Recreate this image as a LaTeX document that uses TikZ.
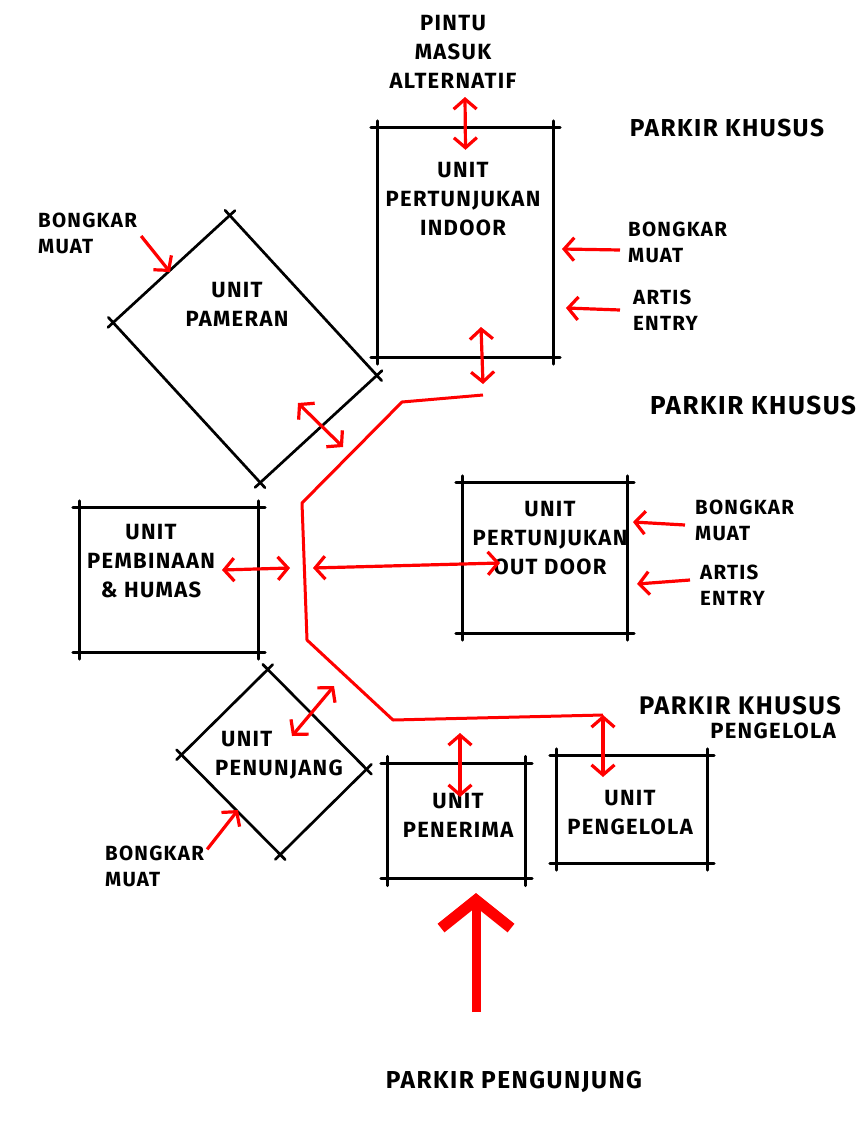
\documentclass[tikz,border=0pt]{standalone}
\usepackage{fontspec}
\setmainfont{Fira Sans}[LetterSpace=6]
\usetikzlibrary{arrows.meta,positioning}

\tikzset{
  unitbox/.style={rectangle,inner sep=0pt},
  sketch/.style={line width=2.7pt,line cap=round,shorten <=-7pt,shorten >=-7pt},
  lbl/.style={font=\bfseries\fontsize{22}{29}\selectfont,align=center,inner sep=0pt},
  lblkiri/.style={font=\bfseries\fontsize{20.5}{26}\selectfont,align=left,inner sep=0pt,anchor=west},
  parkir/.style={font=\bfseries\fontsize{24.5}{30}\selectfont,inner sep=0pt},
  jalur/.style={red,line width=3pt,line join=round},
  twoway/.style={red,line width=3.2pt,{Straight Barb[length=10pt,width=23pt]}-{Straight Barb[length=10pt,width=23pt]}},
  oneway/.style={red,line width=3.2pt,-{Straight Barb[length=10pt,width=23pt]}},
  mainway/.style={red,line width=9pt,-{Straight Barb[length=28pt,width=70pt,line width=11pt]}},
}
\newcommand{\roughbox}[1]{%
  \draw[sketch] (#1.north west) -- (#1.north east);
  \draw[sketch] (#1.north east) -- (#1.south east);
  \draw[sketch] (#1.south east) -- (#1.south west);
  \draw[sketch] (#1.south west) -- (#1.north west);
}

\begin{document}
\begin{tikzpicture}[x=1pt,y=-1pt]
\useasboundingbox (0,0) rectangle (865,1124);

% unit-unit
\node[unitbox,minimum width=175pt,minimum height=229pt] (indoor) at (465.5,242.5) {};
\node[unitbox,minimum width=164pt,minimum height=150pt] (outdoor) at (545,558) {};
\node[unitbox,minimum width=178pt,minimum height=144pt] (pembinaan) at (169,580) {};
\node[unitbox,minimum width=137pt,minimum height=115pt] (penerima) at (456.5,821) {};
\node[unitbox,minimum width=150pt,minimum height=107pt] (pengelola) at (632,809.5) {};
\node[unitbox,minimum width=217pt,minimum height=158pt,rotate=-47.4] (pameran) at (245,349) {};
\node[unitbox,minimum width=140pt,minimum height=121pt,rotate=-45.3] (penunjang) at (274,762) {};
\foreach \u in {indoor,outdoor,pembinaan,penerima,pengelola,pameran,penunjang}
  {\roughbox{\u}}

% teks
\node[lbl] (pintu) at (453,52) {PINTU\\MASUK\\ALTERNATIF};
\node[lbl] (tIndoor) at (463,199) {UNIT\\PERTUNJUKAN\\INDOOR};
\node[lbl] (tPameran) at (237,304) {UNIT\\PAMERAN};
\node[lbl] (tPembinaan) at (151,561) {UNIT\\PEMBINAAN\\\& HUMAS};
\node[lbl] (tOutdoor) at (550,538) {UNIT\\PERTUNJUKAN\\OUT DOOR};
\node[lbl,align=left,anchor=west] (tPenunjang) at (215,755) {\hspace{6pt}UNIT\\PENUNJANG};
\node[lbl] (tPenerima) at (458,815) {UNIT\\PENERIMA};
\node[lbl] (tPengelola) at (630,813) {UNIT\\PENGELOLA};

\node[lblkiri] (bmKiri) at (38,233) {BONGKAR\\MUAT};
\node[lblkiri] (bmIndoor) at (628,242) {BONGKAR\\MUAT};
\node[lblkiri] (artisIndoor) at (633,310) {ARTIS\\ENTRY};
\node[lblkiri] (bmOutdoor) at (695,520) {BONGKAR\\MUAT};
\node[lblkiri] (artisOutdoor) at (700,585) {ARTIS\\ENTRY};
\node[lblkiri] (bmBawah) at (105,866) {BONGKAR\\MUAT};

\node[parkir] (parkir1) at (727,128) {PARKIR KHUSUS};
\node[parkir,font=\bfseries\fontsize{26}{30}\selectfont] (parkir2) at (753,405) {PARKIR KHUSUS};
\node[parkir,font=\bfseries\fontsize{25.5}{30}\selectfont] (parkir3) at (740,706) {PARKIR KHUSUS};
\node[lbl,anchor=east] (parkir3b) at (836,731) {PENGELOLA};
\node[parkir] (pengunjung) at (514,1082) {PARKIR PENGUNJUNG};

% jalur sirkulasi
\coordinate (j1) at (483,395);
\coordinate (j2) at (402,402);
\coordinate (j3) at (302,503);
\coordinate (j4) at (307,640);
\coordinate (j5) at (393,720);
\coordinate (j6) at (603,715);
\draw[jalur] (j1) -- (j2) -- (j3) -- (j4) -- (j5) -- (j6);

% hubungan dua arah
\coordinate (pintuA) at (465,97);
\coordinate (inB) at (481,327);
\coordinate (pmA) at (298,403);
\coordinate (pmB) at (343,447);
\coordinate (pbA) at (222,570);
\coordinate (pbB) at (290,568);
\coordinate (odA) at (313,568);
\coordinate (odB) at (500,563);
\coordinate (pjA) at (292,736);
\coordinate (pjB) at (334,686);
\coordinate (prA) at (460,733);
\coordinate (prB) at (460,797);
\coordinate (plB) at (603,777);
\draw[twoway] (pintuA) -- ([yshift=-22pt]indoor.north);
\draw[twoway] (inB) -- ([yshift=11pt]j1);
\draw[twoway] (pmA) -- (pmB);
\draw[twoway] (pbA) -- (pbB);
\draw[twoway] (odA) -- (odB);
\draw[twoway] (pjA) -- (pjB);
\draw[twoway] (prA) -- (prB);
\draw[twoway] (j6) -- (plB);

% masuk satu arah
\coordinate (bmKiriT) at (170,272);
\coordinate (bmIndoorT) at (562,249);
\coordinate (artisIndoorT) at (566,308);
\coordinate (bmOutdoorT) at (633,522);
\coordinate (artisOutdoorT) at (637,584);
\coordinate (bmBawahT) at (238,810);
\draw[oneway] ([xshift=4pt,yshift=-3pt]bmKiri.east) -- (bmKiriT);
\draw[oneway] ([xshift=-8pt,yshift=-8pt]bmIndoor.west) -- (bmIndoorT);
\draw[oneway] ([xshift=-13pt]artisIndoor.west) -- (artisIndoorT);
\draw[oneway] ([xshift=-10pt,yshift=-5pt]bmOutdoor.west) -- (bmOutdoorT);
\draw[oneway] ([xshift=-10pt,yshift=5pt]artisOutdoor.west) -- (artisOutdoorT);
\draw[oneway] ([xshift=3pt,yshift=-4pt]bmBawah.north east) -- (bmBawahT);

\coordinate (masuk) at (476,1012);
\coordinate (masukT) at (476,893);
\draw[mainway] (masuk) -- (masukT);
\end{tikzpicture}
\end{document}
